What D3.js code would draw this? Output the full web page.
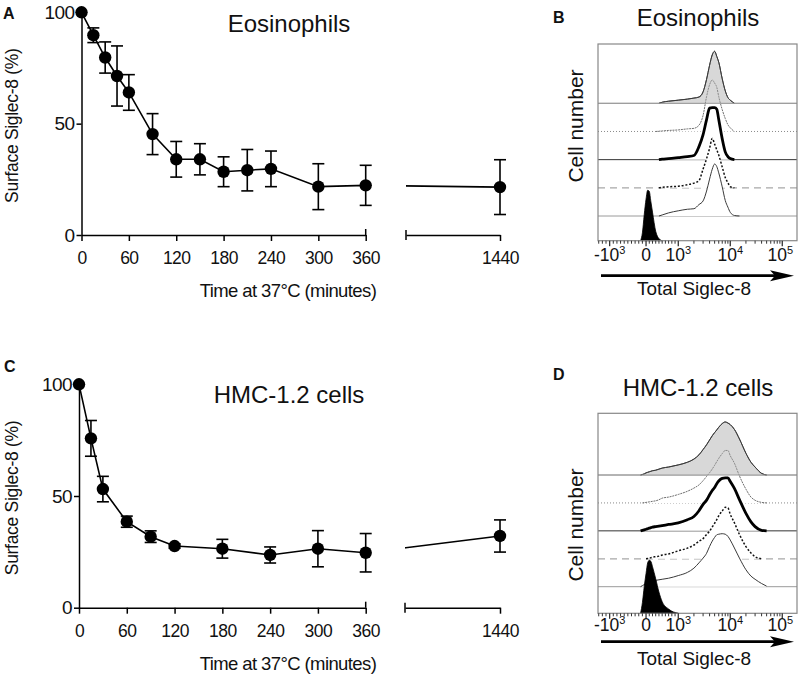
<!DOCTYPE html>
<html><head><meta charset="utf-8">
<script src="https://cdn.jsdelivr.net/npm/d3@7"></script>
<style>
body{margin:0;background:#fff;}
svg text{font-family:"Liberation Sans", Arial, Helvetica, sans-serif; fill:#111;}
</style></head><body>
<svg id="fig" width="800" height="677"></svg>
<script>
// ---------- time-course data (panels A, C) ----------
const eosTime = [0,15,30,45,60,90,120,150,180,210,240,300,360,1440];
const eosMean = [100,89.7,79.7,71.4,64,45.3,34,34,28.4,29.1,29.7,21.7,22.3,21.5];
const eosErr  = [0,3.3,7,13.5,8,9.2,8,7,6.7,9.3,8,10.3,9,12.3];
const hmcTime = [0,15,30,60,90,120,180,240,300,360,1440];
const hmcMean = [100,75.8,53.1,38.5,31.8,27.6,26.4,23.6,26.4,24.6,32.1];
const hmcErr  = [0,8,5.7,2.5,2.6,1,4.2,3.6,8.1,8.6,7.2];
const timeTicksLeft = [0,60,120,180,240,300,360];
const timeTicksRight = [1440];
const pctTicks = [0,50,100];

// ---------- histogram data (panels B, D), % of max per bin ----------
const fluorBins = [-300,-150,-100,-50,0,50,100,150,200,300,400,500,700,1000,1500,2000,2500,3000,3500,4000,4500,5000,5500,6000,7000,8000,9000,10000,12000,15000,20000,25000,30000,40000,50000];
const fluorRange = [-1320, 192000];
const fluorMajorTicks = [-1000,0,1000,10000,100000];
const fluorTickBase = ["-10","0","10","10","10"];
const fluorTickExp  = ["3","","3","4","5"];

const eosTrace1 = [0,0,0,0,0,0,0,0,0,0,0,2,4,6,8,10,12,22,46,73,93,100,90,79,47,24,11,6,0,0,0,0,0,0,0];
const eosTrace2 = [0,0,0,0,0,0,0,0,0,0,0.5,1,2,3,5,6,12,31,67,90,99,93,85,67,42,25,13,7,0,0,0,0,0,0,0];
const eosTrace3 = [0,0,0,0,0,0,0,0,0,0,0,1,2,4,6,8,25,48,77,99,100,100,97,77,40,15,6,2,0,0,0,0,0,0,0];
const eosTrace4 = [0,0,0,0,0,0,0,0,0,0,0,1,2,3,6,9,14,36,56,76,95,84,73,63,40,20,10,2,0,0,0,0,0,0,0];
const eosTrace5 = [0,0,0,0,0,0,0,0,0,0,0,2,6,10,13,14,22,29,48,71,90,100,95,83,56,30,17,7,1,0,0,0,0,0,0];
const eosUnstained = [0,0,15,50,80,97,95,75,55,18,4,0,0,0,0,0,0,0,0,0,0,0,0,0,0,0,0,0,0,0,0,0,0,0,0];

const hmcTrace1 = [0,0,1,2,4,5,6,7,8,9,11,13,15,19,24,30,38,48,57,66,74,80,85,90,97,100,98,95,86,68,41,24,15,3,0];
const hmcTrace2 = [0,0,0,0.5,1,1.5,2,2.5,3,4,6,9,11,16,22,28,34,42,50,57,64,71,78,84,93,99,99,89,75,51,26,11,5,1,0];
const hmcTrace3 = [0,0,1,2,3,4,5,6,7,8,9,10,12,15,21,27,38,50,58,68,76,82,89,94,99,100,100,93,80,59,33,17,8,1,0];
const hmcTrace4 = [0,0,0,0,0,0.5,1,2,3,4,5,7,9,15,20,26,33,38,46,52,60,67,74,81,90,97,96,84,68,46,23,11,4,0,0];
const hmcTrace5 = [0,0,2,4,6,8,9,10,11,12,13,14,16,21,27,35,45,54,63,76,86,93,98,99,100,99,95,88,73,54,32,20,14,6,1];
const hmcUnstained = [0,0,20,50,75,95,100,98,88,65,40,22,8,0,0,0,0,0,0,0,0,0,0,0,0,0,0,0,0,0,0,0,0,0,0];

// ---------------------------------------------------------------
const svg = d3.select("#fig");
const defs = svg.append("defs");

function styleAxis(g, fs, ls){
  g.attr("font-family", null).attr("font-size", null);
  g.selectAll("path,line").attr("stroke","#000").attr("stroke-width",1.5);
  g.selectAll("text").style("font-size", fs+"px").style("letter-spacing", ls+"px").attr("fill","#111");
}

function timeCourse(cfg){
  const g = svg.append("g");
  const y = d3.scaleLinear().domain([0,100]).range([cfg.y0, cfg.y100]);
  const xL = d3.scaleLinear().domain([0,360]).range([cfg.xa, cfg.xb]);
  const xR = d3.scaleLinear().domain([1320,1440]).range([cfg.xc, cfg.xd]);
  const xp = t => t <= 360 ? xL(t) : xR(t);

  const cid = "clip" + cfg.id;
  const cp = defs.append("clipPath").attr("id", cid);
  cp.append("rect").attr("x",0).attr("y",cfg.y100-40).attr("width",cfg.xb).attr("height",cfg.y0-cfg.y100+80);
  cp.append("rect").attr("x",cfg.xc).attr("y",cfg.y100-40).attr("width",800-cfg.xc).attr("height",cfg.y0-cfg.y100+80);

  // axes
  const gx = g.append("g").attr("transform",`translate(0,${cfg.y0})`)
    .call(d3.axisBottom(xL).tickValues(timeTicksLeft).tickFormat(d3.format("d")).tickSize(6).tickSizeOuter(0).tickPadding(11));
  styleAxis(gx, 17.5, -0.5);
  const gx2 = g.append("g").attr("transform",`translate(0,${cfg.y0})`)
    .call(d3.axisBottom(xR).tickValues(timeTicksRight).tickFormat(d3.format("d")).tickSize(6).tickSizeOuter(0).tickPadding(11));
  styleAxis(gx2, 17.5, -0.5);
  // break marks
  g.append("line").attr("x1",cfg.xb).attr("x2",cfg.xb).attr("y1",cfg.y0-6).attr("y2",cfg.y0).attr("stroke","#000").attr("stroke-width",1.5);
  g.append("line").attr("x1",cfg.xc).attr("x2",cfg.xc).attr("y1",cfg.y0-5).attr("y2",cfg.y0+5).attr("stroke","#000").attr("stroke-width",1.5);

  const gy = g.append("g").attr("transform",`translate(${cfg.xa},0)`)
    .call(d3.axisLeft(y).tickValues(pctTicks).tickSize(5).tickSizeOuter(0).tickPadding(2));
  styleAxis(gy, 19, -0.6);

  const pts = cfg.time.map((t,i)=>({t, m:cfg.mean[i], e:cfg.err[i]}));
  g.append("path").datum(pts)
    .attr("d", d3.line().x(d=>xp(d.t)).y(d=>y(d.m)))
    .attr("fill","none").attr("stroke","#000").attr("stroke-width",1.6)
    .attr("clip-path",`url(#${cid})`);

  const eb = g.append("g").attr("stroke","#000").attr("stroke-width",1.6);
  pts.filter(d=>d.e>0).forEach(d=>{
    const x = xp(d.t);
    eb.append("line").attr("x1",x).attr("x2",x).attr("y1",y(d.m-d.e)).attr("y2",y(d.m+d.e));
    eb.append("line").attr("x1",x-6).attr("x2",x+6).attr("y1",y(d.m-d.e)).attr("y2",y(d.m-d.e));
    eb.append("line").attr("x1",x-6).attr("x2",x+6).attr("y1",y(d.m+d.e)).attr("y2",y(d.m+d.e));
  });
  g.append("g").selectAll("circle").data(pts).join("circle")
    .attr("cx",d=>xp(d.t)).attr("cy",d=>y(d.m)).attr("r",6.2).attr("fill","#000");

  g.append("text").attr("x",cfg.titleX).attr("y",cfg.titleY).attr("text-anchor","middle")
    .style("font-size","24px").text(cfg.title);
  g.append("text").attr("x",288).attr("y",cfg.y0+62).attr("text-anchor","middle")
    .style("font-size","18.5px").style("letter-spacing","-0.6px").text("Time at 37°C (minutes)");
  g.append("text").attr("transform",`translate(18,${(cfg.y0+cfg.y100)/2+2}) rotate(-90)`).attr("text-anchor","middle")
    .style("font-size","17.5px").style("letter-spacing","-0.3px").text("Surface Siglec-8 (%)");
  g.append("text").attr("x",cfg.letterX).attr("y",cfg.letterY).style("font-size","16px").style("font-weight","bold").text(cfg.letter);
}

function tf(v){ return v < 0 ? 0.7*v/1000 : (v <= 1000 ? 0.62*v/1000 : 0.62 + Math.log10(v/1000)); }

function histPanel(cfg){
  const g = svg.append("g");
  const x = d3.scaleLinear().domain([tf(fluorRange[0]), tf(fluorRange[1])]).range([cfg.left, cfg.right]);
  const xv = v => x(tf(v));
  const base = d3.scaleLinear().domain([0,4]).range([cfg.firstBase, cfg.lastBase]);
  const h = d3.scaleLinear().domain([0,100]).range([0, cfg.peakPx]);

  const styles = [
    {bl:"#9a9a9a", bd:null, bw:1, c:"#3a3a3a", cw:1, cd:null},
    {bl:"#8a8a8a", bd:"1,2", bw:1, c:"#707070", cw:1, cd:"2,0.8"},
    {bl:"#333", bd:null, bw:1, c:"#000", cw:2.8, cd:null},
    {bl:"#a8a8a8", bd:"7,5", bw:1.2, c:"#111", cw:1.5, cd:"2,1.8"},
    {bl:"#9a9a9a", bd:null, bw:1, c:"#3a3a3a", cw:1, cd:null}
  ];

  function trim(vals){
    let f = vals.findIndex(v=>v>0);
    let l = vals.length-1 - vals.slice().reverse().findIndex(v=>v>0);
    f = Math.max(0,f-1); l = Math.min(vals.length-1,l+1);
    return d3.range(f,l+1).map(i=>({v:fluorBins[i], c:vals[i]}));
  }

  const traces = cfg.traces;
  traces.forEach((vals,i)=>{
    const b = base(i), s = styles[i];
    const p = trim(vals);
    g.append("line").attr("x1",cfg.left).attr("x2",cfg.right).attr("y1",b).attr("y2",b)
      .attr("stroke",s.bl).attr("stroke-width",s.bw).attr("stroke-dasharray",s.bd);
    g.append("path").datum(p)
      .attr("d", d3.area().x(d=>xv(d.v)).y0(b).y1(d=>b-h(d.c)).curve(d3.curveMonotoneX))
      .attr("fill","#fff");
    g.append("path").datum(p)
      .attr("d", d3.line().x(d=>xv(d.v)).y(d=>b-h(d.c)).curve(d3.curveMonotoneX))
      .attr("fill","none").attr("stroke",s.c).attr("stroke-width",s.cw).attr("stroke-dasharray",s.cd)
      .attr("stroke-linejoin","round");
  });
  // gray filled top histogram overlay
  {
    const b = base(0), p = trim(traces[0]);
    g.append("path").datum(p)
      .attr("d", d3.area().x(d=>xv(d.v)).y0(b).y1(d=>b-h(d.c)).curve(d3.curveMonotoneX))
      .attr("fill","#a8a8a8").attr("fill-opacity",0.45);
    g.append("path").datum(p)
      .attr("d", d3.line().x(d=>xv(d.v)).y(d=>b-h(d.c)).curve(d3.curveMonotoneX))
      .attr("fill","none").attr("stroke","#3a3a3a").attr("stroke-width",1);
    g.append("line").attr("x1",cfg.left).attr("x2",cfg.right).attr("y1",b).attr("y2",b)
      .attr("stroke","#9a9a9a").attr("stroke-width",1);
  }
  // unstained (black filled) on box bottom
  {
    const p = trim(cfg.unstained);
    g.append("path").datum(p)
      .attr("d", d3.area().x(d=>xv(d.v)).y0(cfg.bottom).y1(d=>cfg.bottom-h(d.c)).curve(d3.curveMonotoneX))
      .attr("fill","#000").attr("stroke","#000").attr("stroke-width",0.8);
  }
  // box
  g.append("rect").attr("x",cfg.left).attr("y",cfg.top).attr("width",cfg.right-cfg.left).attr("height",cfg.bottom-cfg.top)
    .attr("fill","none").attr("stroke","#888").attr("stroke-width",1.2);

  // ticks
  const minor = [];
  d3.range(-1300,0,100).forEach(v=>{ if(v!==-1000) minor.push(v); });
  d3.range(100,1000,100).forEach(v=>minor.push(v));
  [1000,10000,100000].forEach(d=>d3.range(2,10).forEach(k=>{ if(k*d<fluorRange[1]) minor.push(k*d); }));
  const tg = g.append("g").attr("stroke","#333").attr("stroke-width",1);
  minor.forEach(v=>tg.append("line").attr("x1",xv(v)).attr("x2",xv(v)).attr("y1",cfg.bottom).attr("y2",cfg.bottom+3));
  fluorMajorTicks.forEach(v=>tg.append("line").attr("x1",xv(v)).attr("x2",xv(v)).attr("y1",cfg.bottom).attr("y2",cfg.bottom+5.5).attr("stroke-width",1.3));
  fluorMajorTicks.forEach((v,i)=>{
    const t = g.append("text").attr("x", xv(v) + (i===4 ? -2 : 0)).attr("y", cfg.labelY)
      .attr("text-anchor","middle").style("font-size","17.5px");
    t.append("tspan").text(fluorTickBase[i]);
    if (fluorTickExp[i]) t.append("tspan").attr("dy",-7).style("font-size","11px").text(fluorTickExp[i]);
  });
  // arrow
  const ay = cfg.arrowY;
  g.append("line").attr("x1",cfg.left+3).attr("x2",cfg.right-20).attr("y1",ay).attr("y2",ay)
    .attr("stroke","#000").attr("stroke-width",2.8);
  g.append("path").attr("d",`M${cfg.right-27},${ay-5.5} L${cfg.right-3},${ay} L${cfg.right-27},${ay+5.5} L${cfg.right-22},${ay} Z`).attr("fill","#000");

  g.append("text").attr("x",694).attr("y",cfg.xTitleY).attr("text-anchor","middle")
    .style("font-size","19px").text("Total Siglec-8");
  g.append("text").attr("transform",`translate(583,${cfg.yTitleC}) rotate(-90)`).attr("text-anchor","middle")
    .style("font-size","21px").text("Cell number");
  g.append("text").attr("x",698).attr("y",cfg.titleY).attr("text-anchor","middle")
    .style("font-size","24px").text(cfg.title);
  g.append("text").attr("x",553).attr("y",cfg.letterY).style("font-size","16px").style("font-weight","bold").text(cfg.letter);
}

timeCourse({id:"A", time:eosTime, mean:eosMean, err:eosErr, y0:235, y100:12.3, xa:81.5, xb:365.7, xc:406, xd:500,
  title:"Eosinophils", titleX:289, titleY:32, letter:"A", letterX:3, letterY:19});
timeCourse({id:"C", time:hmcTime, mean:hmcMean, err:hmcErr, y0:607.7, y100:384.3, xa:79, xb:365.7, xc:405, xd:500,
  title:"HMC-1.2 cells", titleX:289, titleY:403, letter:"C", letterX:4, letterY:372});

histPanel({left:598, right:797, top:44, bottom:240.7, firstBase:103.3, lastBase:216, peakPx:52,
  traces:[eosTrace1,eosTrace2,eosTrace3,eosTrace4,eosTrace5], unstained:eosUnstained,
  labelY:261, arrowY:275.7, xTitleY:295, yTitleC:126,
  title:"Eosinophils", titleY:26, letter:"B", letterY:23});
histPanel({left:598, right:797, top:413.3, bottom:613.3, firstBase:475, lastBase:586.7, peakPx:53,
  traces:[hmcTrace1,hmcTrace2,hmcTrace3,hmcTrace4,hmcTrace5], unstained:hmcUnstained,
  labelY:631, arrowY:641.7, xTitleY:665, yTitleC:525,
  title:"HMC-1.2 cells", titleY:396, letter:"D", letterY:380});
</script>
</body></html>
